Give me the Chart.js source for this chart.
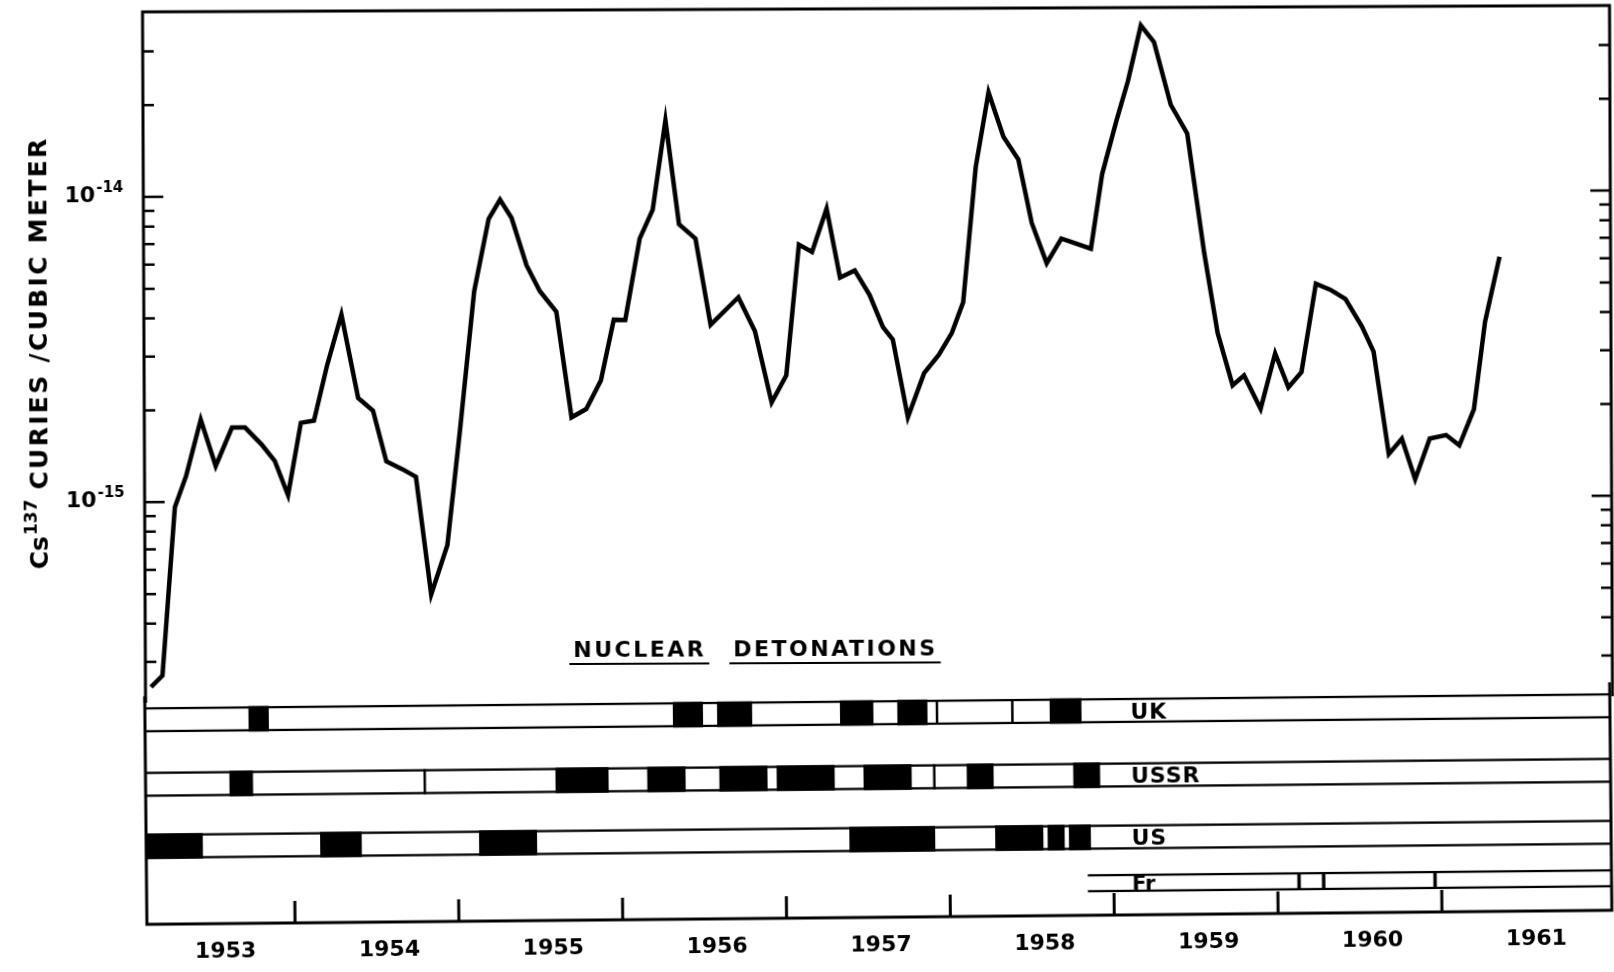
<!DOCTYPE html>
<html>
<head>
<meta charset="utf-8">
<title>Cs137 in surface air and nuclear detonations</title>
<script src="https://cdn.jsdelivr.net/npm/chart.js"></script>
<style>
  html, body { margin: 0; padding: 0; background: #fff; }
  #wrap { position: relative; width: 1614px; height: 972px; overflow: hidden; background: #fff; }
  /* the scanned figure is slightly skewed, so each panel is turned a little */
  #topBox { position: absolute; left: 0; top: 0; width: 1614px; height: 700px; transform: rotate(-0.25deg); }
  #detBox { position: absolute; left: 0; top: 680px; width: 1614px; height: 292px; transform: rotate(-0.55deg); }
  canvas { display: block; }
</style>
</head>
<body>
<div id="wrap">
  <div id="topBox"><canvas id="csChart" width="1614" height="700"></canvas></div>
  <div id="detBox"><canvas id="detChart" width="1614" height="292"></canvas></div>
</div>
<script>
    // Cs137 concentration (curies / cubic meter)
    const cs137Years = [
        1953.13, 1953.20, 1953.28, 1953.35, 1953.44, 1953.53, 1953.63, 1953.71, 1953.81, 1953.89, 1953.97,
        1954.05, 1954.13, 1954.21, 1954.30, 1954.40, 1954.49, 1954.57, 1954.67, 1954.75, 1954.84, 1954.94,
        1955.02, 1955.11, 1955.20, 1955.27, 1955.34, 1955.43, 1955.51, 1955.61, 1955.70, 1955.79, 1955.88, 1955.96,
        1956.03, 1956.12, 1956.20, 1956.28, 1956.36, 1956.46, 1956.55, 1956.72, 1956.82, 1956.92,
        1957.01, 1957.09, 1957.17, 1957.26, 1957.34, 1957.43, 1957.52, 1957.60, 1957.66, 1957.75, 1957.85, 1957.94,
        1958.02, 1958.09, 1958.17, 1958.25, 1958.34, 1958.43, 1958.51, 1958.60, 1958.69, 1958.87, 1958.94,
        1959.03, 1959.10, 1959.18, 1959.26, 1959.36, 1959.46, 1959.56, 1959.64, 1959.73, 1959.80, 1959.90, 1959.99,
        1960.07, 1960.15, 1960.24, 1960.33, 1960.42, 1960.52, 1960.59, 1960.68, 1960.76, 1960.84, 1960.93,
        1961.03, 1961.11, 1961.20, 1961.27, 1961.36
    ];
    const cs137Values = [
        2.48e-16, 2.70e-16, 9.62e-16, 1.22e-15, 1.86e-15, 1.31e-15, 1.75e-15, 1.75e-15, 1.54e-15, 1.36e-15, 1.05e-15,
        1.81e-15, 1.84e-15, 2.77e-15, 4.09e-15, 2.18e-15, 1.98e-15, 1.35e-15, 1.27e-15, 1.20e-15, 4.94e-16, 7.16e-16,
        1.71e-15, 4.86e-15, 8.37e-15, 9.69e-15, 8.43e-15, 5.89e-15, 4.85e-15, 4.15e-15, 1.87e-15, 1.99e-15, 2.47e-15, 3.90e-15,
        3.89e-15, 7.19e-15, 8.93e-15, 1.75e-14, 8.00e-15, 7.17e-15, 3.74e-15, 4.60e-15, 3.56e-15, 2.08e-15,
        2.55e-15, 6.83e-15, 6.46e-15, 8.95e-15, 5.32e-15, 5.61e-15, 4.66e-15, 3.66e-15, 3.33e-15, 1.85e-15, 2.58e-15, 2.96e-15,
        3.49e-15, 4.40e-15, 1.22e-14, 2.14e-14, 1.53e-14, 1.29e-14, 7.98e-15, 5.89e-15, 7.09e-15, 6.56e-15, 1.15e-14,
        1.73e-14, 2.32e-14, 3.53e-14, 3.11e-14, 1.94e-14, 1.56e-14, 6.34e-15, 3.46e-15, 2.33e-15, 2.51e-15, 1.95e-15, 2.96e-15,
        2.29e-15, 2.57e-15, 5.00e-15, 4.77e-15, 4.45e-15, 3.61e-15, 2.99e-15, 1.38e-15, 1.55e-15, 1.14e-15, 1.55e-15,
        1.59e-15, 1.47e-15, 1.93e-15, 3.73e-15, 6.09e-15
    ];

    // axis ticks and labels
    const yMajorTicks = [1e-15, 1e-14];
    const yMajorLabels = ['-15', '-14'];
    const yMinorTicks = [3e-16, 4e-16, 5e-16, 6e-16, 7e-16, 8e-16, 9e-16,
        2e-15, 3e-15, 4e-15, 5e-15, 6e-15, 7e-15, 8e-15, 9e-15, 2e-14, 3e-14];
    const yearLabels = [1953, 1954, 1955, 1956, 1957, 1958, 1959, 1960, 1961];
    const yearTicks = [1954, 1955, 1956, 1957, 1958, 1959, 1960, 1961];

    // test series periods (decimal years)
    const ukTests = [[1953.73, 1953.85], [1956.32, 1956.50], [1956.59, 1956.80],
        [1957.34, 1957.54], [1957.69, 1957.87], [1958.62, 1958.81]];
    const ussrTests = [[1953.61, 1953.75], [1955.60, 1955.92], [1956.16, 1956.39], [1956.60, 1956.89],
        [1956.95, 1957.30], [1957.48, 1957.77], [1958.11, 1958.27], [1958.76, 1958.92]];
    const usTests = [[1953.10, 1953.44], [1954.16, 1954.41], [1955.13, 1955.48], [1957.39, 1957.91],
        [1958.28, 1958.57], [1958.60, 1958.70], [1958.73, 1958.86]];
    const frTests = [1960.13, 1960.28, 1960.96];
    const frStart = 1958.84;
    const ukBreaks = [1957.93, 1958.39];
    const ussrBreaks = [1954.80, 1957.91];

    // layout
    const X_MIN = 1953.096, X_MAX = 1962.037;
    const Y_MIN = 2.2e-16, Y_MAX = 4.04e-14;
    const LANE = { UK: 23.5, USSR: 88, US: 150, Fr: 196 };
    const LABEL_AT = 1959.11;
    const FONT = '"DejaVu Sans", sans-serif';

    Chart.defaults.font.family = FONT;
    Chart.defaults.color = '#000';

    // frame, inward ticks and lettering of the upper panel
    const csDecor = {
        id: 'csDecor',
        afterDatasetsDraw(chart) {
            const { ctx, chartArea: a, scales: { y } } = chart;
            ctx.save();
            ctx.strokeStyle = '#000';
            ctx.fillStyle = '#000';
            ctx.lineWidth = 3;
            ctx.beginPath();
            ctx.moveTo(a.left, a.bottom);
            ctx.lineTo(a.left, a.top);
            ctx.lineTo(a.right, a.top);
            ctx.lineTo(a.right, a.bottom);
            ctx.stroke();

            ctx.lineWidth = 2.5;
            const tick = (v, len) => {
                const py = y.getPixelForValue(v);
                ctx.beginPath();
                ctx.moveTo(a.left, py); ctx.lineTo(a.left + len, py);
                ctx.moveTo(a.right, py); ctx.lineTo(a.right - len, py);
                ctx.stroke();
            };
            yMinorTicks.forEach(v => tick(v, 11));
            yMajorTicks.forEach(v => tick(v, 20));

            // 10^-15, 10^-14
            ctx.textBaseline = 'alphabetic';
            yMajorTicks.forEach((v, i) => {
                const py = y.getPixelForValue(v);
                ctx.font = 'bold 15px ' + FONT;
                const we = ctx.measureText(yMajorLabels[i]).width;
                ctx.font = 'bold 22px ' + FONT;
                const wb = ctx.measureText('10').width;
                const x0 = a.left - 20 - we - wb - 1;
                ctx.fillText('10', x0, py + 5);
                ctx.font = 'bold 15px ' + FONT;
                ctx.fillText(yMajorLabels[i], x0 + wb + 1, py - 5);
            });

            // rotated axis title
            ctx.save();
            ctx.translate(47, 566);
            ctx.rotate(-Math.PI / 2);
            ctx.font = 'bold 25px ' + FONT;
            ctx.fillText('Cs', 0, 0);
            let w = ctx.measureText('Cs').width;
            ctx.font = 'bold 17px ' + FONT;
            ctx.fillText('137', w + 1, -11);
            w += 1 + ctx.measureText('137').width;
            ctx.font = 'bold 25px ' + FONT;
            ctx.letterSpacing = '2.3px';
            ctx.fillText('CURIES /CUBIC METER', w + 10, 0);
            ctx.restore();

            // strip heading
            ctx.font = 'bold 22px ' + FONT;
            ctx.letterSpacing = '2.5px';
            ctx.lineWidth = 2;
            [['NUCLEAR', 572], ['DETONATIONS', 732]].forEach(([txt, x0]) => {
                ctx.fillText(txt, x0, 656);
                const tw = ctx.measureText(txt).width;
                ctx.beginPath();
                ctx.moveTo(x0 - 4, 663);
                ctx.lineTo(x0 + tw + 3, 663);
                ctx.stroke();
            });
            ctx.restore();
        }
    };

    // frame, year ticks, box breaks and country names of the lower panel
    const detDecor = {
        id: 'detDecor',
        afterDatasetsDraw(chart) {
            const { ctx, chartArea: a, scales: { x, y } } = chart;
            ctx.save();
            ctx.strokeStyle = '#000';
            ctx.fillStyle = '#000';
            ctx.lineWidth = 3;
            ctx.beginPath();
            ctx.moveTo(a.left, a.top);
            ctx.lineTo(a.left, a.bottom);
            ctx.lineTo(a.right, a.bottom);
            ctx.lineTo(a.right, a.top);
            ctx.stroke();

            yearTicks.forEach(t => {
                const px = x.getPixelForValue(t);
                ctx.beginPath();
                ctx.moveTo(px, a.bottom);
                ctx.lineTo(px, a.bottom - 22);
                ctx.stroke();
            });

            const lane = (name, half) => {
                const c = y.getPixelForValue(LANE[name]);
                return [c - half, c + half];
            };
            ctx.lineWidth = 2.5;
            [['UK', ukBreaks], ['USSR', ussrBreaks]].forEach(([name, list]) => {
                const [t, b] = lane(name, 12.5);
                list.forEach(v => {
                    const px = x.getPixelForValue(v);
                    ctx.beginPath(); ctx.moveTo(px, t); ctx.lineTo(px, b); ctx.stroke();
                });
            });
            ctx.lineWidth = 3.5;
            const [ft, fb] = lane('Fr', 9);
            frTests.forEach(v => {
                const px = x.getPixelForValue(v);
                ctx.beginPath(); ctx.moveTo(px, ft); ctx.lineTo(px, fb); ctx.stroke();
            });

            ctx.textBaseline = 'alphabetic';
            ctx.font = 'bold 22px ' + FONT;
            ctx.letterSpacing = '1px';
            ['UK', 'USSR', 'US'].forEach(c => {
                ctx.fillText(c, x.getPixelForValue(LABEL_AT), y.getPixelForValue(LANE[c]) + 8);
            });
            ctx.font = 'bold 21px ' + FONT;
            ctx.letterSpacing = '0px';
            ctx.fillText('Fr', x.getPixelForValue(LABEL_AT), y.getPixelForValue(LANE.Fr) + 7.5);
            ctx.restore();
        }
    };

    function initCsChart() {
        new Chart(document.getElementById('csChart'), {
            type: 'line',
            data: {
                datasets: [{
                    data: cs137Years.map((yr, i) => ({ x: yr, y: cs137Values[i] })),
                    borderColor: '#000',
                    borderWidth: 4.5,
                    borderJoinStyle: 'miter',
                    pointRadius: 0,
                    tension: 0,
                    fill: false
                }]
            },
            options: {
                responsive: false,
                animation: false,
                events: [],
                layout: { padding: { left: 144, right: 3, top: 9, bottom: 0 } },
                plugins: { legend: { display: false }, tooltip: { enabled: false } },
                scales: {
                    x: { type: 'linear', min: X_MIN, max: X_MAX, display: false },
                    y: { type: 'logarithmic', min: Y_MIN, max: Y_MAX, display: false }
                }
            },
            plugins: [csDecor]
        });
    }

    function initDetChart() {
        const testSet = (list, lane) => ({
            data: list.map(r => ({ x: r, y: LANE[lane] })),
            backgroundColor: '#000',
            borderWidth: 0,
            barThickness: 25,
            order: 1
        });
        const rowStyle = {
            backgroundColor: '#fff',
            borderColor: '#000',
            borderWidth: { top: 2.5, bottom: 2.5, left: 0, right: 0 },
            borderSkipped: false,
            order: 2
        };
        new Chart(document.getElementById('detChart'), {
            type: 'bar',
            data: {
                datasets: [
                    testSet(ukTests, 'UK'),
                    testSet(ussrTests, 'USSR'),
                    testSet(usTests, 'US'),
                    Object.assign({
                        data: ['UK', 'USSR', 'US'].map(c => ({ x: [X_MIN, X_MAX], y: LANE[c] })),
                        barThickness: 25
                    }, rowStyle),
                    Object.assign({
                        data: [{ x: [frStart, X_MAX], y: LANE.Fr }],
                        barThickness: 18
                    }, rowStyle)
                ]
            },
            options: {
                indexAxis: 'y',
                responsive: false,
                animation: false,
                events: [],
                datasets: { bar: { grouped: false } },
                layout: { padding: { left: 146, right: 3, top: 10, bottom: 0 } },
                plugins: { legend: { display: false }, tooltip: { enabled: false } },
                scales: {
                    x: {
                        type: 'linear', min: X_MIN, max: X_MAX,
                        grid: { display: false, drawTicks: false },
                        border: { display: false },
                        afterBuildTicks: ax => { ax.ticks = yearLabels.map(yr => ({ value: yr + 0.575 })); },
                        afterFit: ax => { ax.height = 54; },
                        ticks: {
                            color: '#000',
                            font: { size: 22, weight: 'bold' },
                            padding: 15,
                            maxRotation: 0,
                            autoSkip: false,
                            callback: (v, i) => String(yearLabels[i])
                        }
                    },
                    y: { type: 'linear', reverse: true, min: 0, max: 228, offset: false, display: false }
                }
            },
            plugins: [detDecor]
        });
    }

    document.addEventListener('DOMContentLoaded', function() {
        initCsChart();
        initDetChart();
    });
</script>
</body>
</html>
